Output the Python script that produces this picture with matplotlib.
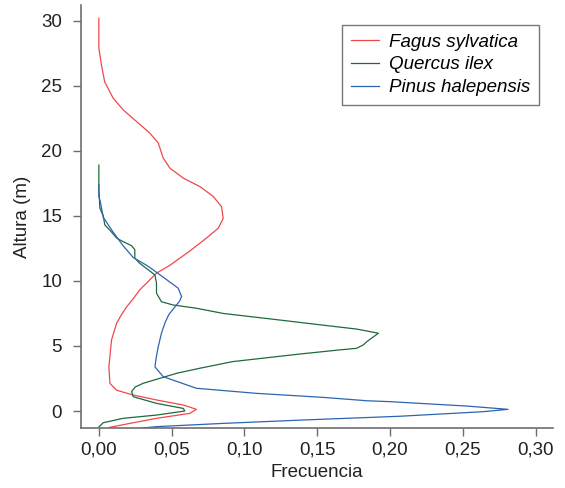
import matplotlib
matplotlib.use("Agg")
import matplotlib.pyplot as plt
from matplotlib.ticker import FuncFormatter

plt.rcParams['font.family'] = ['Liberation Sans', 'DejaVu Sans']

species = ["Fagus sylvatica", "Quercus ilex", "Pinus halepensis"]
colors = ["#f0484a", "#1e6a3c", "#2c64b0"]

fagus_x = [0.000, 0.000, 0.0018, 0.004, 0.0098, 0.0167, 0.0259, 0.035, 0.0408, 0.0442, 0.0488, 0.058,
           0.0694, 0.0785, 0.0843, 0.0854, 0.082, 0.074, 0.0625, 0.0488, 0.0396, 0.028, 0.023, 0.019,
           0.0155, 0.0122, 0.0087, 0.0069, 0.0076, 0.0122, 0.0236, 0.0396, 0.058, 0.067, 0.0625, 0.0396,
           0.0213, 0.0076]
fagus_y = [30.2, 27.9, 26.6, 25.3, 24.05, 23.15, 22.25, 21.36, 20.6, 19.44, 18.67, 17.9,
           17.25, 16.5, 15.7, 14.8, 14.05, 13.3, 12.3, 11.2, 10.6, 9.3, 8.54, 8.0,
           7.4, 6.75, 5.46, 3.4, 2.13, 1.6, 1.23, 0.85, 0.46, 0.13, -0.18, -0.56,
           -0.95, -1.25]

quercus_x = [0.000, 0.000, 0.0007, 0.003, 0.0041, 0.0076, 0.0122, 0.0144, 0.0225, 0.0247, 0.0247,
             0.028, 0.0385, 0.0396, 0.0396, 0.043, 0.051, 0.067, 0.0854, 0.120, 0.154, 0.177,
             0.192, 0.184, 0.1816, 0.177, 0.1656, 0.138, 0.092, 0.069, 0.0534, 0.0304, 0.025, 0.0225,
             0.0236, 0.0396, 0.058, 0.059, 0.0396, 0.0167, 0.003, 0.0002]
quercus_y = [18.9, 17.1, 15.6, 15.0, 14.3, 13.9, 13.3, 13.15, 12.7, 12.4, 11.75,
             11.36, 10.46, 9.82, 9.05, 8.4, 8.15, 7.9, 7.5, 7.05, 6.6, 6.3,
             5.98, 5.33, 5.08, 4.82, 4.7, 4.38, 3.8, 3.28, 2.9, 2.13, 1.85, 1.5,
             1.1, 0.59, 0.2, 0.0, -0.31, -0.56, -0.9, -1.2]

pinus_x = [0.000, 0.000, 0.001, 0.003, 0.0098, 0.0167, 0.0236, 0.0328, 0.0373, 0.0465, 0.0545,
           0.0568, 0.0555, 0.0522, 0.0480, 0.0455, 0.043, 0.0408, 0.0395, 0.0385, 0.0442, 0.067,
           0.108, 0.154, 0.184, 0.200, 0.253, 0.281, 0.264, 0.207, 0.138, 0.0854, 0.0396, 0.028]
pinus_y = [17.4, 16.5, 16.1, 14.9, 13.75, 12.7, 11.8, 11.2, 10.85, 10.1, 9.44,
           8.8, 8.45, 8.0, 7.4, 6.8, 5.98, 4.95, 4.18, 3.4, 2.64, 1.75,
           1.36, 1.05, 0.79, 0.72, 0.38, 0.13, -0.05, -0.4, -0.7, -0.95, -1.2, -1.33]

xticks = [0.00, 0.05, 0.10, 0.15, 0.20, 0.25, 0.30]
yticks = [0, 5, 10, 15, 20, 25, 30]

fig = plt.figure(figsize=(5.65, 4.88), dpi=100)
ax = fig.add_axes([0.143, 0.1236, 0.836, 0.866])

for xs, ys, c, name in zip([fagus_x, quercus_x, pinus_x], [fagus_y, quercus_y, pinus_y], colors, species):
    ax.plot(xs, ys, color=c, lw=0.9, label=name, solid_joinstyle='round')

ax.set_xlim(-0.0124, 0.312)
ax.set_ylim(-1.28, 31.2)
ax.set_xticks(xticks)
ax.set_yticks(yticks)
ax.xaxis.set_major_formatter(FuncFormatter(lambda v, p: f"{v:.2f}".replace('.', ',')))
ax.yaxis.set_major_formatter(FuncFormatter(lambda v, p: f"{int(round(v))}"))

for s in ['top', 'right']:
    ax.spines[s].set_visible(False)
for s in ['left', 'bottom']:
    ax.spines[s].set_color('#6e6e6e')
    ax.spines[s].set_linewidth(1.2)
ax.tick_params(axis='both', direction='out', length=6, width=1.0, color='#6e6e6e',
               labelsize=13.5, labelcolor='#222222')
ax.tick_params(axis='x', pad=4)
ax.tick_params(axis='y', pad=7.5)

ax.set_xlabel("Frecuencia", fontsize=13.5, color='#222222', labelpad=4)
ax.set_ylabel("Altura (m)", fontsize=13.5, color='#222222', labelpad=7)

leg = ax.legend(loc='upper right', bbox_to_anchor=(539 / 565, 1 - 25 / 488),
                bbox_transform=fig.transFigure, frameon=True, fancybox=False,
                prop={'style': 'italic', 'size': 13.5}, handlelength=1.5,
                handletextpad=0.55, borderpad=0.45, labelspacing=0.3, borderaxespad=0)
leg.get_frame().set_edgecolor('#555555')
leg.get_frame().set_linewidth(1.0)

fig.savefig("out.png", dpi=100)
